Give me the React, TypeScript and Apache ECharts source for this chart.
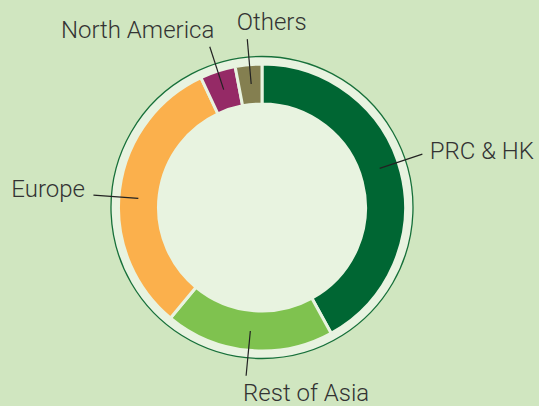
import React, { useEffect, useRef } from "react";
import * as echarts from "echarts";

// ---- data ----
const categories = ["PRC & HK", "Rest of Asia", "Europe", "North America", "Others"];
const shares = [42, 19, 32, 4, 3];
const colors = ["#006633", "#7fc24f", "#fbb04c", "#952a66", "#847f50"];

// ---- layout / style ----
const W = 539;
const H = 406;
const CX = 262;
const CY = 207.5;
const R_IN = 105;
const R_OUT = 142;
const R_RING = 151;
const GAP = 3;
const LINE_R0 = 124;
const LINE_R1 = 169;
// small tweaks to the leader-line angle (degrees) relative to the slice middle
const lineAngleAdjust = [-4, 0, -3, 0, 0.4];
// label anchor offset from the leader-line end: [dx, dy, align]
const labelOffsets: [number, number, string][] = [
  [7.4, -3, "left"],
  [-3, 17.2, "left"],
  [-8.5, -6, "right"],
  [4.5, -17, "right"],
  [-10.5, -17, "left"],
];

const BG = "#d0e6c0";
const FILL = "#e8f3e0";
const RING = "#17703a";
const TEXT = "#333333";
const LINE = "#222222";

function midAngles(): number[] {
  const total = shares.reduce((a, b) => a + b, 0);
  let acc = 0;
  return shares.map((v) => {
    const a0 = (acc / total) * 360;
    acc += v;
    const a1 = (acc / total) * 360;
    return (a0 + a1) / 2;
  });
}

function polar(angleDeg: number, r: number): [number, number] {
  const t = (angleDeg * Math.PI) / 180;
  return [CX + r * Math.sin(t), CY - r * Math.cos(t)];
}

export default function App() {
  const ref = useRef<HTMLDivElement>(null);

  useEffect(() => {
    if (!ref.current) return;
    const chart = echarts.init(ref.current, null, { renderer: "svg" });
    const mids = midAngles();
    const ends = mids.map((m, i) => polar(m + lineAngleAdjust[i], LINE_R1));
    const starts = mids.map((m, i) => polar(m + lineAngleAdjust[i], LINE_R0));

    chart.setOption({
      animation: false,
      backgroundColor: BG,
      graphic: starts.map((p0, i) => ({
        type: "line",
        silent: true,
        z: 10,
        shape: { x1: p0[0], y1: p0[1], x2: ends[i][0], y2: ends[i][1] },
        style: { stroke: LINE, lineWidth: 1.2 },
      })),
      series: [
        {
          type: "pie",
          silent: true,
          center: [CX, CY],
          radius: [0, R_RING],
          label: { show: false },
          labelLine: { show: false },
          emphasis: { disabled: true },
          itemStyle: { color: FILL, borderColor: RING, borderWidth: 1.3 },
          data: [{ value: 1, name: "" }],
          z: 1,
        },
        {
          type: "pie",
          silent: true,
          center: [CX, CY],
          radius: [R_IN - GAP / 2, R_OUT + GAP / 2],
          startAngle: 90,
          clockwise: true,
          avoidLabelOverlap: false,
          emphasis: { disabled: true },
          itemStyle: { borderColor: FILL, borderWidth: GAP },
          label: {
            show: true,
            position: "outside",
            formatter: "{b}",
            color: TEXT,
            fontSize: 24,
            lineHeight: 20,
            fontFamily: "Roboto",
            fontWeight: 300,
          },
          labelLine: { show: false },
          labelLayout: (params: any) => {
            const i = params.dataIndex;
            const p1 = ends[i];
            const off = labelOffsets[i];
            return {
              x: p1[0] + off[0],
              y: p1[1] + off[1],
              align: off[2],
              verticalAlign: "middle",
            };
          },
          data: categories.map((name, i) => ({
            name,
            value: shares[i],
            itemStyle: { color: colors[i] },
          })),
          z: 2,
        },
      ],
    });

    return () => chart.dispose();
  }, []);

  return (
    <div
      ref={ref}
      style={{ position: "absolute", left: 0, top: 0, width: W, height: H }}
    />
  );
}
